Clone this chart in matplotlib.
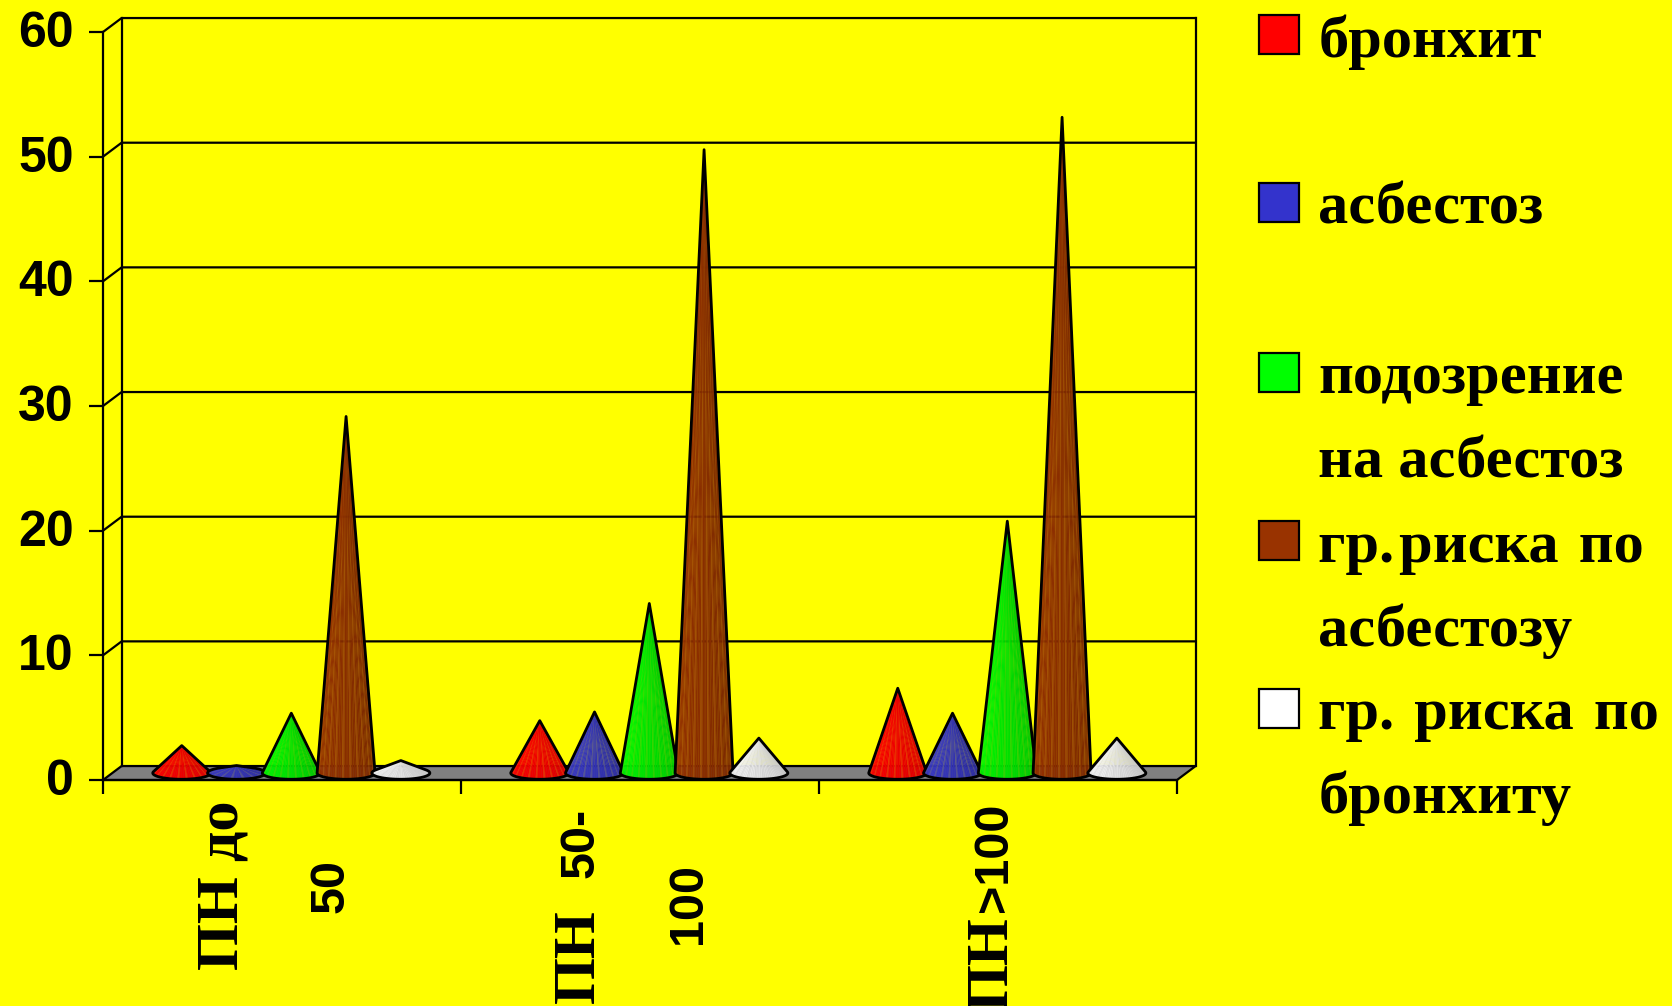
import numpy as np
import matplotlib
matplotlib.use("Agg")
import matplotlib.pyplot as plt
from matplotlib.collections import PolyCollection
from matplotlib.patches import Polygon, Rectangle
from matplotlib.transforms import ScaledTranslation

W, H = 1672, 1006

groups = ["ПН до 50", "ПН 50-100", "ПН>100"]
series = ["бронхит", "асбестоз", "подозрение на асбестоз", "гр.риска по асбестозу", "гр. риска по бронхиту"]

bronchitis = [2.2, 4.2, 6.8]
asbestosis = [0.6, 4.9, 4.8]
suspected = [4.8, 13.6, 20.2]
risk_asbestosis = [28.6, 50.0, 52.6]
risk_bronchitis = [1.0, 2.8, 2.8]

yticks = [0, 10, 20, 30, 40, 50, 60]

# left, right and streak colour of each cone
cone_colors = [
    ("#ff0000", "#d80000", "#e08000"),
    ("#3c3ccc", "#2a2a99", "#8a8a60"),
    ("#00ff00", "#00c000", "#80c000"),
    ("#993300", "#772800", "#c07810"),
    ("#ffffff", "#c4c4c4", "#d0d0d0"),
]
swatch_colors = ["#ff0000", "#3333cc", "#00ff00", "#993300", "#ffffff"]

legend_lines = ["бронхит", "асбестоз", "подозрение", "на асбестоз", "гр.\u200aриска \u200aпо",
                "асбестозу", "гр. \u200aриска \u200aпо", "бронхиту"]
legend_baselines = [57, 223, 393, 478, 562, 646, 729, 813]
swatch_tops = [15, 183, 353, 521, 689]

# rotated category labels: text, baseline x, top end y, family
cat_labels = ["ПН до", "50", "ПН", "50-", "100", "ПН", ">100"]
cat_x = [237, 344, 594, 594, 701, 1007, 1007]
cat_y = [801, 859, 909, 808, 863, 916, 803]
cat_serif = [True, False, True, False, False, True, False]

SERIF = dict(family="Liberation Serif", weight="bold", fontsize=43.5)
SANS = dict(family="Liberation Sans", weight="bold", fontsize=35)
LW = 1.6

# depth of the 3d box, in data units
DX = 0.052
DY = 1.12
# cone geometry, in data units
CONE_A = 0.081
CONE_B = 0.5
CONE_Y = 0.56
GROUP_CENTER = 0.526
GROUP_STEP = 0.153


def draw_cone(ax, x, value, colors, z):
    h = max(value, CONE_B * 1.05)
    left = np.array(matplotlib.colors.to_rgb(colors[0]))
    right = np.array(matplotlib.colors.to_rgb(colors[1]))
    streak = np.array(matplotlib.colors.to_rgb(colors[2]))

    # tangent points of the apex on the base ellipse
    t0 = np.arcsin(min(1, CONE_B / h))
    t = np.linspace(np.pi - t0, 2 * np.pi + t0, 49)
    ex = x + CONE_A * np.cos(t)
    ey = CONE_Y + CONE_B * np.sin(t)
    apex = (x, CONE_Y + h)

    wedges = []
    facecolors = []
    for i in range(len(t) - 1):
        wedges.append([apex, (ex[i], ey[i]), (ex[i + 1], ey[i + 1])])
        frac = i / (len(t) - 2)
        c = left + (right - left) * frac
        if i % 4 == 2:
            c = c * 0.65 + streak * 0.35
        facecolors.append(c)
    ax.add_collection(PolyCollection(wedges, facecolors=facecolors, edgecolors="face",
                                     linewidths=0.3, zorder=z, clip_on=False))
    outline = [apex] + list(zip(ex, ey))
    ax.add_patch(Polygon(outline, closed=True, fill=False, edgecolor="black",
                         linewidth=2.0, zorder=z + 0.5, clip_on=False, joinstyle="round"))


plt.rcParams["font.family"] = ["Liberation Sans", "DejaVu Sans"]

fig = plt.figure(figsize=(W / 100, H / 100), dpi=100, facecolor="#ffff00")
ax = fig.add_axes([103 / W, 1 - 780 / H, (1177 - 103) / W, (780 - 32) / H])
ax.set_facecolor("none")
ax.set_xlim(0, 3)
ax.set_ylim(0, 60)

# box: floor, back wall, grid
ax.add_patch(Polygon([(0, 0), (3, 0), (3 + DX, DY), (DX, DY)], closed=True, facecolor="#808080",
                     edgecolor="black", linewidth=LW, clip_on=False, zorder=1))
for v in yticks[1:]:
    ax.plot([0, DX, 3 + DX], [v, v + DY, v + DY], color="black", lw=LW, clip_on=False, zorder=1.2)
ax.plot([DX, DX], [DY, 60 + DY], color="black", lw=LW, clip_on=False, zorder=1.2)
ax.plot([3 + DX, 3 + DX], [DY, 60 + DY], color="black", lw=LW, clip_on=False, zorder=1.2)

# cones, left to right so each one overlaps the previous
all_values = [bronchitis, asbestosis, suspected, risk_asbestosis, risk_bronchitis]
z = 2
for g in range(len(groups)):
    for s, values in enumerate(all_values):
        x = g + GROUP_CENTER + (s - 2) * GROUP_STEP
        draw_cone(ax, x, values[g], cone_colors[s], z)
        z += 1

for name in ["top", "right"]:
    ax.spines[name].set_visible(False)
for name in ["left", "bottom"]:
    ax.spines[name].set_linewidth(LW)
    ax.spines[name].set_zorder(1.5)

ax.set_xticks([0, 1, 2, 3])
ax.set_xticklabels([])
ax.set_yticks(yticks)
ax.set_yticklabels([str(v) for v in yticks], fontweight="bold", fontsize=36)
ax.tick_params(axis="both", length=10, width=LW, color="black")
ax.tick_params(axis="y", pad=11)
# labels sit a little above their ticks
lift = ScaledTranslation(0, 3 / 100, fig.dpi_scale_trans)
for label in ax.get_yticklabels():
    label.set_transform(label.get_transform() + lift)

# category labels
for text, px, py, serif in zip(cat_labels, cat_x, cat_y, cat_serif):
    style = SERIF if serif else SANS
    fig.text(px / W, 1 - py / H, text, rotation=90, rotation_mode="anchor",
             ha="right", va="baseline", color="black", **style)

# legend
for top, color in zip(swatch_tops, swatch_colors):
    fig.add_artist(Rectangle((1259 / W, 1 - (top + 39) / H), 40 / W, 39 / H, facecolor=color,
                             edgecolor="black", linewidth=LW, transform=fig.transFigure))
for line, base in zip(legend_lines, legend_baselines):
    fig.text(1318.5 / W, 1 - base / H, line, ha="left", va="baseline", color="black", **SERIF)

fig.savefig("out.png", dpi=100, facecolor=fig.get_facecolor())
